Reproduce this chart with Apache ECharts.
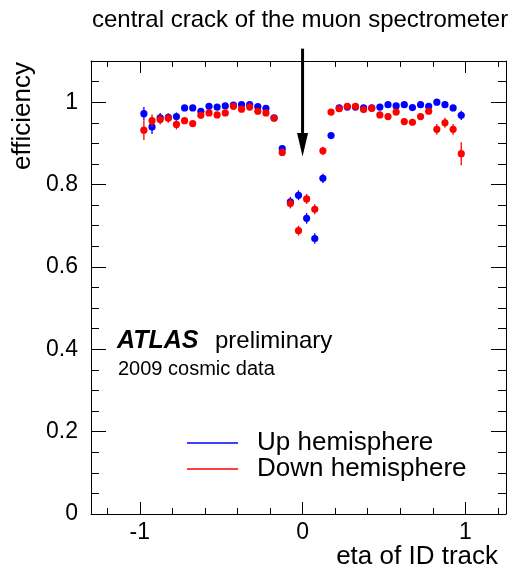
<!DOCTYPE html>
<html>
<head>
<meta charset="utf-8">
<script src="https://cdn.jsdelivr.net/npm/echarts@6/dist/echarts.min.js"></script>
<style>
html,body{margin:0;padding:0;background:#fff;}
#chart{width:513px;height:571px;}
</style>
</head>
<body>
<div id="chart"></div>
<script>
// ---- data ----
const etaBins = [-0.975,-0.925,-0.875,-0.825,-0.775,-0.725,-0.675,-0.625,-0.575,-0.525,
  -0.475,-0.425,-0.375,-0.325,-0.275,-0.225,-0.175,-0.125,-0.075,-0.025,
  0.025,0.075,0.125,0.175,0.225,0.275,0.325,0.375,0.425,0.475,
  0.525,0.575,0.625,0.675,0.725,0.775,0.825,0.875,0.925,0.975];
const upEff = [0.972,0.940,0.962,0.963,0.965,0.986,0.986,0.978,0.990,0.988,
  0.991,0.993,0.994,0.994,0.989,0.985,0.962,0.887,0.758,0.774,
  0.718,0.669,0.815,0.919,0.986,0.988,0.988,0.986,0.986,0.988,
  0.994,0.991,0.994,0.987,0.994,0.990,1.000,0.994,0.986,0.968];
const upErr = [0.016,0.017,0.012,0.010,0.010,0.006,0.006,0.006,0.006,0.006,
  0.006,0.006,0.006,0.006,0.006,0.006,0.006,0.008,0.012,0.012,
  0.013,0.013,0.011,0.008,0.006,0.006,0.006,0.006,0.006,0.006,
  0.006,0.006,0.006,0.006,0.006,0.006,0.006,0.006,0.007,0.011];
const downEff = [0.932,0.955,0.958,0.961,0.946,0.955,0.948,0.968,0.974,0.969,
  0.974,0.990,0.983,0.988,0.978,0.974,0.961,0.878,0.754,0.688,
  0.765,0.740,0.882,0.976,0.984,0.990,0.990,0.982,0.985,0.969,
  0.965,0.976,0.953,0.951,0.965,0.978,0.934,0.950,0.934,0.875];
const downErr = [0.024,0.015,0.012,0.011,0.012,0.007,0.007,0.006,0.006,0.006,
  0.006,0.006,0.006,0.006,0.006,0.006,0.006,0.008,0.012,0.012,
  0.012,0.012,0.010,0.007,0.006,0.006,0.006,0.006,0.006,0.007,
  0.007,0.007,0.007,0.007,0.007,0.007,0.013,0.012,0.013,0.028];
const xMajorTicks = [-1, 0, 1];
const xMinorTicks = [-1.2,-0.8,-0.6,-0.4,-0.2,0.2,0.4,0.6,0.8,1.2];
const yMajorTicks = [0, 0.2, 0.4, 0.6, 0.8, 1];
const yMinorTicks = [0.05,0.1,0.15,0.25,0.3,0.35,0.45,0.5,0.55,0.65,0.7,0.75,0.85,0.9,0.95,1.05];
const xRange = [-1.3, 1.25];
const yRange = [0, 1.1];
const seriesNames = ['Up hemisphere', 'Down hemisphere'];
const seriesColors = ['#0000ff', '#ff0000'];

// ---- chart ----
const FONT = '"Liberation Sans", Arial, Helvetica, sans-serif';
const chart = echarts.init(document.getElementById('chart'), null, {renderer: 'canvas'});

function xAx(position, ticks, len, showLine, labels) {
  return {
    type: 'value', position: position, min: xRange[0], max: xRange[1],
    axisLine: {show: showLine, onZero: false, lineStyle: {color: '#000', width: 1}},
    axisTick: {show: true, inside: true, length: len, customValues: ticks, lineStyle: {color: '#000', width: 1}},
    axisLabel: labels ? {show: true, customValues: labels, color: '#000', fontSize: 23, fontFamily: FONT, margin: 7}
                      : {show: false},
    splitLine: {show: false}
  };
}
function yAx(position, ticks, len, showLine, labels) {
  return {
    type: 'value', position: position, min: yRange[0], max: yRange[1],
    axisLine: {show: showLine, onZero: false, lineStyle: {color: '#000', width: 1}},
    axisTick: {show: true, inside: true, length: len, customValues: ticks, lineStyle: {color: '#000', width: 1}},
    axisLabel: labels ? {show: true, customValues: labels, color: '#000', fontSize: 23, fontFamily: FONT, margin: 13}
                      : {show: false},
    splitLine: {show: false}
  };
}

function makeRender(color) {
  return function (params, api) {
    const x = api.value(0), y = api.value(1), e = api.value(2);
    const p = api.coord([x, y]);
    const hi = api.coord([x, y + e]);
    const lo = api.coord([x, y - e]);
    return {
      type: 'group',
      children: [
        {type: 'line', shape: {x1: p[0], y1: hi[1], x2: p[0], y2: lo[1]}, style: {stroke: color, lineWidth: 1.3}},
        {type: 'circle', shape: {cx: p[0], cy: p[1], r: 3.6}, style: {fill: color}}
      ]
    };
  };
}

const baseGraphic = [
  {type: 'text', x: 92, y: 20,
   style: {text: 'central crack of the muon spectrometer', font: '24px ' + FONT, fill: '#000', align: 'left', verticalAlign: 'middle'}},
  {type: 'text', x: 23, y: 62, rotation: Math.PI / 2,
   style: {text: 'efficiency', font: '26px ' + FONT, fill: '#000', align: 'right', verticalAlign: 'middle'}},
  {type: 'text', x: 498, y: 557,
   style: {text: 'eta of ID track', font: '26px ' + FONT, fill: '#000', align: 'right', verticalAlign: 'middle'}},
  {type: 'text', x: 117, y: 341,
   style: {text: 'ATLAS', font: 'italic bold 25px ' + FONT, fill: '#000', align: 'left', verticalAlign: 'middle'}},
  {type: 'text', x: 215, y: 341,
   style: {text: 'preliminary', font: '24px ' + FONT, fill: '#000', align: 'left', verticalAlign: 'middle'}},
  {type: 'text', x: 118, y: 369,
   style: {text: '2009 cosmic data', font: '20px ' + FONT, fill: '#000', align: 'left', verticalAlign: 'middle'}},
  {type: 'line', shape: {x1: 187, y1: 443, x2: 238, y2: 443}, style: {stroke: seriesColors[0], lineWidth: 1.5}},
  {type: 'line', shape: {x1: 187, y1: 469, x2: 238, y2: 469}, style: {stroke: seriesColors[1], lineWidth: 1.5}},
  {type: 'text', x: 257, y: 443,
   style: {text: seriesNames[0], font: '26px ' + FONT, fill: '#000', align: 'left', verticalAlign: 'middle'}},
  {type: 'text', x: 257, y: 469,
   style: {text: seriesNames[1], font: '26px ' + FONT, fill: '#000', align: 'left', verticalAlign: 'middle'}}
];

const option = {
  animation: false,
  backgroundColor: '#fff',
  grid: {left: 91, right: 7, top: 61, bottom: 57, containLabel: false},
  xAxis: [
    xAx('bottom', xMajorTicks, 12, true, xMajorTicks),
    xAx('bottom', xMinorTicks, 6, false, null),
    xAx('top', xMajorTicks, 12, true, null),
    xAx('top', xMinorTicks, 6, false, null)
  ],
  yAxis: [
    yAx('left', yMajorTicks, 15, true, yMajorTicks),
    yAx('left', yMinorTicks, 8, false, null),
    yAx('right', yMajorTicks, 15, true, null),
    yAx('right', yMinorTicks, 8, false, null)
  ],
  series: [
    {
      name: seriesNames[0], type: 'custom', xAxisIndex: 0, yAxisIndex: 0,
      renderItem: makeRender(seriesColors[0]),
      data: etaBins.map((x, i) => [x, upEff[i], upErr[i]]),
      clip: false
    },
    {
      name: seriesNames[1], type: 'custom', xAxisIndex: 0, yAxisIndex: 0,
      renderItem: makeRender(seriesColors[1]),
      data: etaBins.map((x, i) => [x, downEff[i], downErr[i]]),
      clip: false
    }
  ],
  graphic: baseGraphic
};
chart.setOption(option);

// arrow pointing at the crack (eta = 0), placed through the axes
const arrowEta = 0;
const ax = chart.convertToPixel({xAxisIndex: 0}, arrowEta);
const yTop = chart.convertToPixel({yAxisIndex: 0}, 1.13);
const yBase = chart.convertToPixel({yAxisIndex: 0}, 0.925);
const yTip = chart.convertToPixel({yAxisIndex: 0}, 0.868);
chart.setOption({
  graphic: baseGraphic.concat([
    {type: 'line', shape: {x1: ax, y1: yTop, x2: ax, y2: yBase + 2}, style: {stroke: '#000', lineWidth: 3}},
    {type: 'polygon', shape: {points: [[ax - 5.5, yBase], [ax + 5.5, yBase], [ax, yTip]]}, style: {fill: '#000'}}
  ])
});
</script>
</body>
</html>
